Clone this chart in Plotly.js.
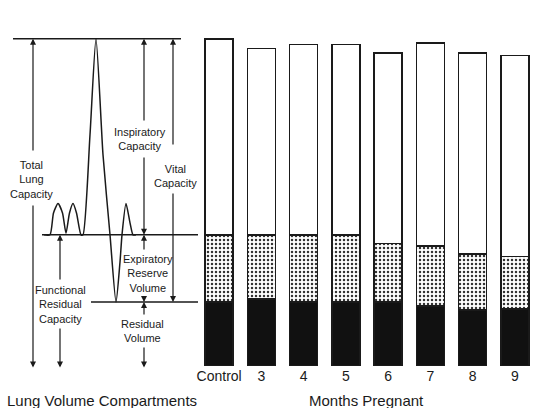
<!DOCTYPE html>
<html><head><meta charset="utf-8">
<script src="https://cdn.plot.ly/plotly-3.0.1.min.js"></script>
<style>html,body{margin:0;padding:0;background:#fff}#chart{width:536px;height:408px}</style>
</head><body><div id="chart"></div>
<script>
// ---- data (litres) ----
var categories = ["Control", "3", "4", "5", "6", "7", "8", "9"];
var residualVolume = [0.80, 0.84, 0.80, 0.80, 0.80, 0.75, 0.70, 0.71];
var expiratoryReserve = [0.84, 0.80, 0.84, 0.84, 0.73, 0.75, 0.70, 0.66];
var inspiratoryCapacity = [2.45, 2.33, 2.38, 2.38, 2.38, 2.54, 2.51, 2.51];
var tidalVolume = 0.39;

// ---- levels of the schematic (from the control column) ----
var RV = residualVolume[0];
var FRC = RV + expiratoryReserve[0];
var TLC = FRC + inspiratoryCapacity[0];
var BASE = -0.02;

var FONT = "Liberation Sans, Arial, sans-serif";
var INK = "#1a1a1a";
var PXPERL = 80, Y0PX = 366, TOPPX = 30;
function Y(py) { return (Y0PX - py) / PXPERL; }
function PY(py) { return (Y0PX - py) / (Y0PX - TOPPX); }

var traces = [];
traces.push({type: "bar", x: categories, y: residualVolume, name: "Residual Volume",
  marker: {color: "#111", line: {color: INK, width: 1.5}}, width: 0.66, hoverinfo: "skip"});
traces.push({type: "bar", x: categories, y: expiratoryReserve, name: "Expiratory Reserve Volume",
  marker: {color: "#fff", line: {color: INK, width: 1.5},
    pattern: {shape: ".", fgcolor: "#333", bgcolor: "#fff", size: 4, solidity: 0.3}},
  width: 0.66, hoverinfo: "skip"});
traces.push({type: "bar", x: categories, y: inspiratoryCapacity, name: "Inspiratory Capacity",
  marker: {color: "#fff", line: {color: INK, width: 1.5}}, width: 0.66, hoverinfo: "skip"});

// reference lines of schematic
function hline(x0, x1, y) {
  traces.push({type: "scatter", mode: "lines", xaxis: "x2", yaxis: "y",
    x: [x0, x1], y: [y, y], line: {color: INK, width: 1.4}, hoverinfo: "skip", showlegend: false});
}
hline(13, 181, TLC);
hline(42, 202, FRC);
hline(91, 202, RV);
hline(12, 181, BASE);

// spirogram
var T = tidalVolume;
traces.push({type: "scatter", mode: "lines", xaxis: "x2", yaxis: "y",
  x: [44, 50, 53.5, 58, 62.5, 66, 69.5, 73, 76.5, 81, 83, 90, 96, 103, 110, 116, 120, 122, 126, 130, 133, 136],
  y: [FRC, FRC, FRC + 0.7 * T, FRC + T, FRC + 0.7 * T, FRC + 0.02, FRC + 0.7 * T, FRC + T, FRC + 0.7 * T, FRC,
      FRC, FRC + 1.25, TLC, FRC + 1.0, FRC, RV, RV + 0.5, FRC, FRC + T, FRC + 0.15, FRC, FRC],
  line: {color: INK, width: 1.5, shape: "spline", smoothing: 0.6}, hoverinfo: "skip", showlegend: false});

var annotations = [];
function arrow(x, from, to) {
  annotations.push({xref: "x2", yref: "y", axref: "x2", ayref: "y", x: x, y: to, ax: x, ay: from,
    text: "", showarrow: true, arrowhead: 2, arrowsize: 1, arrowwidth: 1.2, arrowcolor: INK});
}
function label(x, py, txt) {
  annotations.push({xref: "x2", yref: "y", x: x, y: Y(py), text: txt, showarrow: false,
    font: {family: FONT, size: 11, color: INK}, align: "center", xanchor: "center", yanchor: "middle"});
}
arrow(33, Y(152), TLC); arrow(33, Y(204), BASE);
arrow(144, Y(122), TLC); arrow(144, Y(156), FRC);
arrow(173, Y(146), TLC); arrow(173, Y(192), RV);
arrow(60, Y(281), FRC); arrow(60, Y(327), BASE);
arrow(144, Y(251), FRC); arrow(144, Y(295), RV);
arrow(144, Y(316), RV); arrow(144, Y(346), BASE);

label(31, 179, "Total<br>Lung<br>Capacity");
label(140, 139, "Inspiratory<br>Capacity");
label(175, 176, "Vital<br>Capacity");
label(60, 304, "Functional<br>Residual<br>Capacity");
label(148, 273, "Expiratory<br>Reserve<br>Volume");
label(142, 331, "Residual<br>Volume");

annotations.push({xref: "paper", yref: "paper", x: 102 / 536, y: PY(400), xanchor: "center", yanchor: "middle",
  text: "Lung Volume Compartments", showarrow: false, font: {family: FONT, size: 15, color: INK}});
annotations.push({xref: "paper", yref: "paper", x: 366 / 536, y: PY(400), xanchor: "center", yanchor: "middle",
  text: "Months Pregnant", showarrow: false, font: {family: FONT, size: 15, color: INK}});

var layout = {
  width: 536, height: 408,
  margin: {l: 0, r: 0, t: TOPPX, b: 408 - Y0PX},
  paper_bgcolor: "#fff", plot_bgcolor: "#fff",
  showlegend: false, barmode: "stack",
  xaxis: {domain: [198 / 536, 1], type: "category", range: [-0.5, 7.5], showgrid: false,
    zeroline: false, showline: false, ticks: "", tickfont: {family: FONT, size: 14, color: INK}, anchor: "y"},
  xaxis2: {domain: [0, 198 / 536], range: [0, 198], visible: false, anchor: "y"},
  yaxis: {range: [0, 4.2], visible: false, showgrid: false, zeroline: false},
  annotations: annotations
};
Plotly.newPlot("chart", traces, layout, {staticPlot: true, displayModeBar: false});
</script></body></html>
